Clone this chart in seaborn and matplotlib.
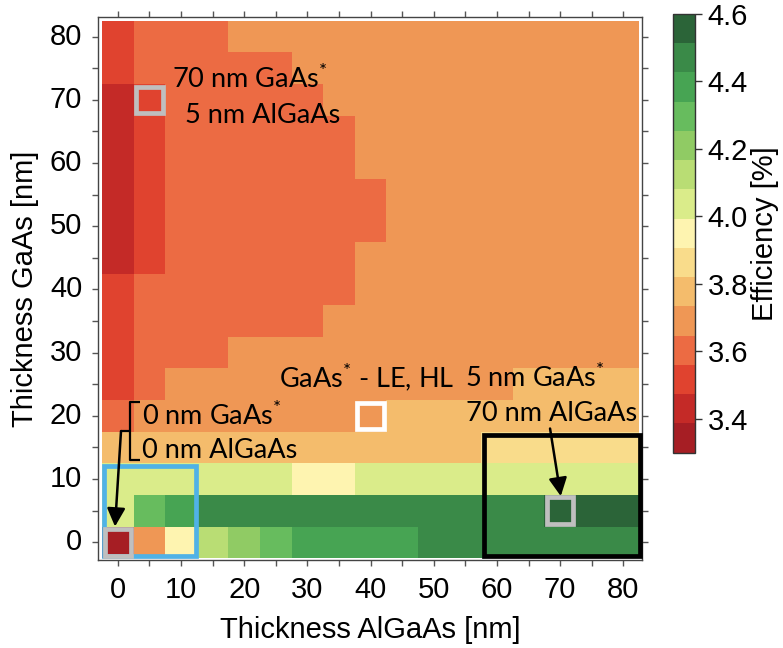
import matplotlib
matplotlib.use("Agg")
import matplotlib.pyplot as plt
from matplotlib.colors import ListedColormap
from matplotlib.patches import Rectangle
import pandas as pd
import seaborn as sns

# Layer thicknesses [nm]
algaas_nm = [0, 5, 10, 15, 20, 25, 30, 35, 40, 45, 50, 55, 60, 65, 70, 75, 80]
gaas_nm = [0, 5, 10, 15, 20, 25, 30, 35, 40, 45, 50, 55, 60, 65, 70, 75, 80]

# Efficiency [%] for each GaAs thickness, one value per AlGaAs thickness
eff_gaas_00 = [3.34, 3.69, 3.95, 4.12, 4.21, 4.30, 4.38, 4.38, 4.38, 4.38, 4.47, 4.47, 4.47, 4.47, 4.47, 4.47, 4.47]
eff_gaas_05 = [4.04, 4.30, 4.38, 4.47, 4.47, 4.47, 4.47, 4.47, 4.47, 4.47, 4.47, 4.47, 4.47, 4.47, 4.56, 4.56, 4.56]
eff_gaas_10 = [4.04, 4.04, 4.04, 4.04, 4.04, 4.04, 3.95, 3.95, 4.04, 4.04, 4.04, 4.04, 4.04, 4.04, 4.04, 4.04, 4.04]
eff_gaas_15 = [3.78, 3.78, 3.78, 3.78, 3.78, 3.78, 3.78, 3.78, 3.78, 3.78, 3.78, 3.78, 3.86, 3.86, 3.86, 3.86, 3.86]
eff_gaas_20 = [3.60, 3.69, 3.69, 3.69, 3.69, 3.69, 3.69, 3.69, 3.69, 3.78, 3.78, 3.78, 3.78, 3.78, 3.78, 3.78, 3.78]
eff_gaas_25 = [3.52, 3.60, 3.69, 3.69, 3.69, 3.69, 3.69, 3.69, 3.69, 3.69, 3.69, 3.69, 3.69, 3.78, 3.78, 3.78, 3.78]
eff_gaas_30 = [3.52, 3.60, 3.60, 3.60, 3.69, 3.69, 3.69, 3.69, 3.69, 3.69, 3.69, 3.69, 3.69, 3.69, 3.69, 3.69, 3.69]
eff_gaas_35 = [3.52, 3.60, 3.60, 3.60, 3.60, 3.60, 3.60, 3.69, 3.69, 3.69, 3.69, 3.69, 3.69, 3.69, 3.69, 3.69, 3.69]
eff_gaas_40 = [3.52, 3.60, 3.60, 3.60, 3.60, 3.60, 3.60, 3.60, 3.69, 3.69, 3.69, 3.69, 3.69, 3.69, 3.69, 3.69, 3.69]
eff_gaas_45 = [3.43, 3.52, 3.60, 3.60, 3.60, 3.60, 3.60, 3.60, 3.69, 3.69, 3.69, 3.69, 3.69, 3.69, 3.69, 3.69, 3.69]
eff_gaas_50 = [3.43, 3.52, 3.60, 3.60, 3.60, 3.60, 3.60, 3.60, 3.60, 3.69, 3.69, 3.69, 3.69, 3.69, 3.69, 3.69, 3.69]
eff_gaas_55 = [3.43, 3.52, 3.60, 3.60, 3.60, 3.60, 3.60, 3.60, 3.60, 3.69, 3.69, 3.69, 3.69, 3.69, 3.69, 3.69, 3.69]
eff_gaas_60 = [3.43, 3.52, 3.60, 3.60, 3.60, 3.60, 3.60, 3.60, 3.69, 3.69, 3.69, 3.69, 3.69, 3.69, 3.69, 3.69, 3.69]
eff_gaas_65 = [3.43, 3.52, 3.60, 3.60, 3.60, 3.60, 3.60, 3.60, 3.69, 3.69, 3.69, 3.69, 3.69, 3.69, 3.69, 3.69, 3.69]
eff_gaas_70 = [3.43, 3.52, 3.60, 3.60, 3.60, 3.60, 3.60, 3.69, 3.69, 3.69, 3.69, 3.69, 3.69, 3.69, 3.69, 3.69, 3.69]
eff_gaas_75 = [3.52, 3.60, 3.60, 3.60, 3.60, 3.60, 3.69, 3.69, 3.69, 3.69, 3.69, 3.69, 3.69, 3.69, 3.69, 3.69, 3.69]
eff_gaas_80 = [3.52, 3.60, 3.60, 3.60, 3.69, 3.69, 3.69, 3.69, 3.69, 3.69, 3.69, 3.69, 3.69, 3.69, 3.69, 3.69, 3.69]

cbar_ticks = [3.4, 3.6, 3.8, 4.0, 4.2, 4.4, 4.6]
x_ticks_labeled = [0, 10, 20, 30, 40, 50, 60, 70, 80]
y_ticks_labeled = [0, 10, 20, 30, 40, 50, 60, 70, 80]

# 15-step red-yellow-green scale between 3.3 % and 4.6 %
level_colors = ["#A61E24", "#C42A27", "#E0432F", "#EC6B43", "#EF9755",
                "#F4BC6C", "#F9DC8B", "#FEF4B0", "#DAEC8A", "#B9DD74",
                "#90CB64", "#67BC5E", "#47A453", "#3A8A48", "#2B6438"]
cmap = ListedColormap(level_colors)

eff = pd.DataFrame(
    [eff_gaas_00, eff_gaas_05, eff_gaas_10, eff_gaas_15, eff_gaas_20,
     eff_gaas_25, eff_gaas_30, eff_gaas_35, eff_gaas_40, eff_gaas_45,
     eff_gaas_50, eff_gaas_55, eff_gaas_60, eff_gaas_65, eff_gaas_70,
     eff_gaas_75, eff_gaas_80],
    index=gaas_nm, columns=algaas_nm)

sns.set_style("white")
plt.rcParams["font.family"] = ["Liberation Sans", "DejaVu Sans"]
plt.rcParams["mathtext.fontset"] = "custom"
plt.rcParams["mathtext.rm"] = "Lato"
plt.rcParams["mathtext.it"] = "Lato"
plt.rcParams["text.color"] = "black"
plt.rcParams["axes.labelcolor"] = "black"
plt.rcParams["xtick.labelcolor"] = "black"
plt.rcParams["ytick.labelcolor"] = "black"

fig = plt.figure(figsize=(7.83, 6.48), dpi=100)
ax = fig.add_axes([0.1255, 0.1358, 0.6944, 0.8384])
cax = fig.add_axes([0.8591, 0.3014, 0.0285, 0.677])

sns.heatmap(eff, ax=ax, cbar_ax=cax, cmap=cmap, vmin=3.3, vmax=4.6,
            linewidths=0, cbar_kws={"ticks": cbar_ticks})

STEP = 5.0


def hx(v):
    """AlGaAs thickness [nm] -> heatmap column coordinate."""
    return v / STEP + 0.5


def hy(v):
    """GaAs thickness [nm] -> heatmap row coordinate."""
    return v / STEP + 0.5


# axes range slightly larger than the grid, row 0 at the bottom
ax.set_xlim(hx(-3.1), hx(82.95))
ax.set_ylim(hy(-2.8), hy(83.15))

for s in ax.spines.values():
    s.set_visible(True)
    s.set_color("#444444")
    s.set_linewidth(1.0)

ax.set_xticks([hx(v) for v in x_ticks_labeled])
ax.set_xticklabels([str(v) for v in x_ticks_labeled], rotation=0)
ax.set_xticks([hx(v + 5) for v in x_ticks_labeled[:-1]], minor=True)
ax.set_yticks([hy(v) for v in y_ticks_labeled])
ax.set_yticklabels([str(v) for v in y_ticks_labeled], rotation=0, va="center")
ax.set_yticks([hy(v + 5) for v in y_ticks_labeled[:-1]], minor=True)
ax.tick_params(which="both", direction="out", length=4.5, width=1.0,
               color="#555555", top=True, right=True, bottom=True, left=True,
               labeltop=False, labelright=False)
ax.tick_params(axis="x", which="major", labelsize=21, pad=7,
               labelcolor="black")
ax.tick_params(axis="y", which="major", labelsize=21, pad=7,
               labelcolor="black")

ax.set_xlabel("Thickness AlGaAs [nm]", fontsize=21, labelpad=9,
              color="black")
ax.set_ylabel("Thickness GaAs [nm]", fontsize=21, labelpad=8, color="black")

# colour bar
cb = ax.collections[0].colorbar
cb.outline.set_visible(True)
cb.outline.set_linewidth(1.0)
cb.outline.set_edgecolor("#333333")
cb.set_ticks(cbar_ticks, labels=[f"{t:.1f}" for t in cbar_ticks])
cb.ax.tick_params(labelsize=21, length=5, width=1.0, direction="out",
                  color="#333333", pad=4, labelcolor="black")
cb.set_label("Efficiency [%]", fontsize=21, labelpad=2, color="black")

# highlighted cells and regions
LW_BOX = 3.4


def cell_square(cx, cy, color):
    side = 4.2
    ax.add_patch(Rectangle((hx(cx - side / 2), hy(cy - side / 2)),
                           side / STEP, side / STEP, fill=False,
                           edgecolor=color, linewidth=LW_BOX, zorder=5))


def region_box(x0, y0, x1, y1, color):
    ax.add_patch(Rectangle((hx(x0), hy(y0)), (x1 - x0) / STEP,
                           (y1 - y0) / STEP, fill=False, edgecolor=color,
                           linewidth=LW_BOX, zorder=4, clip_on=False))


region_box(-2.15, -2.2, 12.35, 12.1, "#50B2E6")
region_box(58.0, -2.2, 82.6, 17.0, "black")
cell_square(5, 70, "#BFBFBF")
cell_square(0, 0, "#BFBFBF")
cell_square(70, 5, "#BFBFBF")
cell_square(40, 20, "white")

# annotations
ann = dict(fontsize=19.5, family=["Lato", "DejaVu Sans"], ha="left",
           va="center", color="black", zorder=6)
ax.text(hx(8.6), hy(73.4), r"70 nm GaAs$^{*}$", **ann)
ax.text(hx(10.6), hy(67.6), "5 nm AlGaAs", **ann)
ax.text(hx(25.5), hy(26.2), r"GaAs$^{*}$ - LE, HL", **ann)
ax.text(hx(54.9), hy(26.0), r"5 nm GaAs$^{*}$", **ann)
ax.text(hx(55.1), hy(20.3), "70 nm AlGaAs", **ann)
ax.text(hx(3.8), hy(20.1), r"0 nm GaAs$^{*}$", **ann)
ax.text(hx(3.8), hy(14.5), "0 nm AlGaAs", **ann)

# bracket grouping the two "0 nm" lines
ax.plot([hx(3.5), hx(1.93), hx(1.93), hx(3.5)],
        [hy(22.2), hy(22.2), hy(13.0), hy(13.0)],
        color="black", lw=1.6, zorder=6, solid_capstyle="butt")
ax.plot([hx(0.5), hx(1.93)], [hy(17.6), hy(17.6)], color="black", lw=1.6,
        zorder=6, solid_capstyle="butt")

arrow = dict(arrowstyle="-|>,head_length=0.5,head_width=0.25", color="black",
             lw=1.8, shrinkA=0, shrinkB=0, mutation_scale=22)
ax.annotate("", xy=(hx(-0.45), hy(2.5)), xytext=(hx(0.5), hy(17.6)),
            arrowprops=arrow, zorder=7)
ax.annotate("", xy=(hx(70.1), hy(7.3)), xytext=(hx(68.4), hy(18.0)),
            arrowprops=arrow, zorder=7)

fig.savefig("out.png", dpi=100)
